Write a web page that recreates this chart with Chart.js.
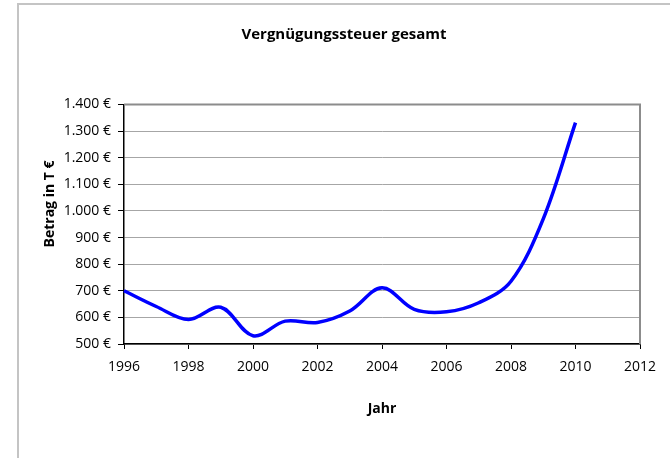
<!DOCTYPE html>
<html>
<head>
<meta charset="utf-8">
<script src="https://cdn.jsdelivr.net/npm/chart.js@4/dist/chart.umd.min.js"></script>
<style>
  html, body { margin: 0; padding: 0; background: #ffffff; }
  #wrap { width: 670px; height: 458px; }
</style>
</head>
<body>
<div id="wrap"><canvas id="c" width="670" height="458"></canvas></div>
<script>
// ---- data ----
const chartTitle = "Vergnügungssteuer gesamt";
const xAxisTitle = "Jahr";
const yAxisTitle = "Betrag in T €";
const years  = [1996, 1997, 1998, 1999, 2000, 2001, 2002, 2003, 2004, 2005, 2006, 2007, 2008, 2009, 2010];
const values = [700, 641, 592, 638, 531, 586, 581, 624, 711, 630, 621, 655, 736, 970, 1332];
const xMin = 1996, xMax = 2012, xStep = 2;
const yMin = 500, yMax = 1400, yStep = 100;

const FONT = "'Open Sans', 'Noto Sans', sans-serif";

function fmtEuro(v) {
  const s = String(Math.round(v));
  const withDots = s.replace(/\B(?=(\d{3})+(?!\d))/g, ".");
  return withDots + " €";
}

const framePlugin = {
  id: 'frame',
  beforeDraw(chart) {
    const ctx = chart.ctx;
    ctx.save();
    ctx.fillStyle = '#ffffff';
    ctx.fillRect(0, 0, chart.width, chart.height);
    ctx.strokeStyle = '#c4c4c4';
    ctx.lineWidth = 2;
    ctx.beginPath();
    ctx.moveTo(18, chart.height);
    ctx.lineTo(18, 4);
    ctx.lineTo(chart.width, 4);
    ctx.stroke();
    ctx.restore();
  },
  beforeDatasetsDraw(chart) {
    const {ctx, chartArea: a} = chart;
    ctx.save();
    ctx.strokeStyle = '#8c8c8c';
    ctx.lineWidth = 2;
    ctx.beginPath();
    ctx.moveTo(a.left, a.top);
    ctx.lineTo(a.right, a.top);
    ctx.lineTo(a.right, a.bottom);
    ctx.stroke();
    ctx.restore();
  },
  afterDraw(chart) {
    const ctx = chart.ctx;
    ctx.save();
    ctx.translate(50, 204);
    ctx.rotate(-Math.PI / 2);
    ctx.font = "bold 14px " + FONT;
    ctx.fillStyle = '#000000';
    ctx.textAlign = 'center';
    ctx.textBaseline = 'middle';
    ctx.fillText(yAxisTitle, 0, 0);
    ctx.restore();
  }
};

new Chart(document.getElementById('c'), {
  type: 'line',
  data: {
    datasets: [{
      data: years.map((y, i) => ({x: y, y: values[i]})),
      borderColor: '#0000ff',
      borderWidth: 3.5,
      pointRadius: 0,
      pointHoverRadius: 0,
      tension: 0.35,
      fill: false,
      clip: false
    }]
  },
  options: {
    responsive: false,
    animation: false,
    devicePixelRatio: 1,
    layout: { padding: { left: 48, right: 30, top: 0, bottom: 0 } },
    plugins: {
      legend: { display: false },
      tooltip: { enabled: false },
      title: {
        display: true,
        text: chartTitle,
        color: '#000000',
        font: { family: FONT, size: 15, weight: 'bold' },
        padding: { top: 26, bottom: 60.5 }
      }
    },
    scales: {
      x: {
        type: 'linear',
        min: xMin, max: xMax,
        afterFit(s) { s.height = 114; },
        ticks: {
          stepSize: xStep,
          color: '#000000',
          font: { family: FONT, size: 14 },
          padding: 10,
          maxRotation: 0,
          callback: v => String(v)
        },
        grid: { drawOnChartArea: false, drawTicks: true, tickLength: 5, tickColor: '#000000' },
        border: { color: '#000000', width: 1.5 },
        title: {
          display: true,
          text: xAxisTitle,
          color: '#000000',
          font: { family: FONT, size: 14, weight: 'bold' },
          padding: { top: 0, bottom: 41 }
        }
      },
      y: {
        type: 'linear',
        min: yMin, max: yMax,
        afterFit(s) { s.width = 76; },
        ticks: {
          stepSize: yStep,
          color: '#000000',
          font: { family: FONT, size: 14 },
          padding: 7,
          callback: v => fmtEuro(v)
        },
        grid: { color: '#a6a6a6', lineWidth: 1, drawTicks: true, tickLength: 6, tickColor: '#000000' },
        border: { color: '#000000', width: 1.5 }
      }
    }
  },
  plugins: [framePlugin]
});
</script>
</body>
</html>
